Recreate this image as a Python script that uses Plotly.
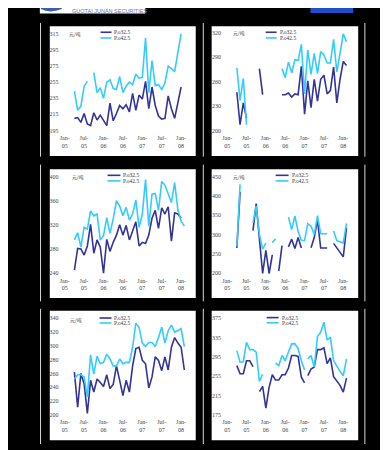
import plotly.graph_objects as go

W, H = 388, 450

# ---------------- data ----------------
months = ["Jan-05", "Feb-05", "Mar-05", "Apr-05", "May-05", "Jun-05", "Jul-05", "Aug-05", "Sep-05", "Oct-05", "Nov-05", "Dec-05",
          "Jan-06", "Feb-06", "Mar-06", "Apr-06", "May-06", "Jun-06", "Jul-06", "Aug-06", "Sep-06", "Oct-06", "Nov-06", "Dec-06",
          "Jan-07", "Feb-07", "Mar-07", "Apr-07", "May-07", "Jun-07", "Jul-07", "Aug-07", "Sep-07", "Oct-07", "Nov-07", "Dec-07",
          "Jan-08", "Feb-08"]
tick_months = ["Jan-05", "Jul-05", "Jan-06", "Jul-06", "Jan-07", "Jul-07", "Jan-08"]
tick_text = ["Jan-<br>05", "Jul-<br>05", "Jan-<br>06", "Jul-<br>06", "Jan-<br>07", "Jul-<br>07", "Jan-<br>08"]
series_names = ["P.o32.5", "P.o42.5"]
unit_label = "元/吨"

N = None
p1_po325 = [N, N, N, 210, 211, 205, 216, 203, 201, 217, 208, 214, 207, 201, 229, 207, 216, 226, 222, 227, 218, 241, 220, 239,
            234, 256, 222, 249, 226, 213, 209, 210, 238, 222, 210, 229, 249, N]
p1_po425 = [N, N, N, 244, 220, 225, 250, 256, N, 267, 242, 248, 235, 255, 258, 247, 246, 262, 242, 250, 255, 252, 265, 260,
            261, 310, 242, 282, 251, 252, 246, 254, 275, 272, 268, 292, 315, N]
p1_yticks = [195, 215, 235, 255, 275, 295, 315]

p2_po325 = [N, N, N, 247, 207, 234, 215, N, N, N, 276, 244, N, N, N, N, N, 244, 244, 246, 241, 245, 244, 279,
            220, 261, 228, 263, 236, 263, 268, 245, 249, 278, 234, 263, 285, 280]
p2_po425 = [N, N, N, 277, 237, 264, 207, N, N, N, N, N, N, N, N, N, N, 276, 265, 284, 271, 287, 286, 306,
            245, 299, 269, 295, 270, 297, 293, 283, 283, 312, 272, 295, 319, 309]
p2_yticks = [200, 230, 260, 290, 320]

p3_po325 = [N, N, N, 245, 281, 280, 270, 285, 321, 273, 295, 283, 240, 296, 276, 291, 303, 320, 303, 319, 295, 310, 325, 285,
            291, 289, 303, 331, 344, 314, 348, 338, 350, 293, 340, 338, 331, N]
p3_po425 = [N, N, N, 295, 307, 283, 316, 313, 343, 335, 338, 295, 302, 332, 306, 330, 360, 351, 335, 349, 328, 338, 361, 316,
            338, 395, 318, 371, 372, 344, 392, 386, 371, 357, 390, 345, 326, 318]
p3_yticks = [240, 280, 320, 360, 400]

p4_po325 = [N, N, N, 265, 410, N, N, N, 310, 380, 288, 199, 259, 199, 247, N, 206, 271, N, 268, 288, 264, 292, 265,
            N, N, 266, 292, 338, 265, 265, 265, N, 277, 265, 253, 242, 318]
p4_po425 = [N, N, N, 270, 430, N, N, N, 330, 374, 300, 262, 278, N, 279, 289, N, N, N, 345, 313, 348, 308, 285,
            284, 328, 322, 300, 349, 302, 302, 302, N, 309, 284, 281, 278, 329]
p4_yticks = [200, 250, 300, 350, 400, 450]

p5_po325 = [N, N, N, 262, 211, 260, 245, 202, 250, 233, 252, 247, 241, 258, 238, 244, 271, 250, 228, 250, 233, 271, 296, 298,
            279, 274, 239, 255, 284, 279, 264, 284, 265, 298, 312, 304, 298, 265]
p5_po425 = [N, N, N, 252, 258, 258, 255, 226, 287, 259, 285, 274, 276, 288, 281, 271, 271, 281, 274, 276, 276, 298, 333, 327,
            304, 299, 305, 305, 299, 312, 327, 304, 322, 330, 320, 322, 325, 299]
p5_yticks = [200, 220, 240, 260, 280, 300, 320, 340]

p6_po325 = [N, N, N, 277, 260, 260, 287, 287, 275, N, 223, 234, 189, 232, 258, 247, 247, 258, 258, 272, 298, 298, 296, 253,
            241, 256, 270, 274, 310, 310, 314, 281, 293, 254, 246, 236, 222, 251]
p6_po425 = [N, N, N, 308, 284, 285, 325, 310, 310, 305, 244, 259, N, N, N, 282, 277, 298, 287, 305, 322, 322, 312, 287,
            268, 291, 298, 274, 337, 346, 367, 330, 336, 287, 275, 265, 256, 291]
p6_yticks = [175, 215, 255, 295, 335, 375]
p6_breaks = ["Jan-07"]   # series are interrupted right after this month

# ---------------- styling / layout specs (pixels) ----------------
DARK, LIGHT = "#333399", "#33CCFF"
SERIF = "Liberation Serif"

panels = [
    dict(d=(p1_po325, p1_po425), yt=p1_yticks, brk=[], rect=(40, 18.3, 186.7, 148.3), x0=55.0, x36=172.0,
         ylo_px=122.7, yhi_px=26.0, unit=(65.5, 26.0), leg=(91, 102, 24.3, 30.0)),
    dict(d=(p2_po325, p2_po425), yt=p2_yticks, brk=[], rect=(202.7, 18.3, 350, 148.3), x0=218.3, x36=335.0,
         ylo_px=122.7, yhi_px=25.0, unit=(230.0, 25.3), leg=(257, 268, 24.3, 30.0)),
    dict(d=(p3_po325, p3_po425), yt=p3_yticks, brk=[], rect=(40, 161.7, 186.7, 290.7), x0=55.0, x36=172.0,
         ylo_px=265.7, yhi_px=169.0, unit=(68.0, 169.0), leg=(98, 111, 167.7, 173.3)),
    dict(d=(p4_po325, p4_po425), yt=p4_yticks, brk=[], rect=(202.7, 161.7, 350, 290.7), x0=218.3, x36=335.0,
         ylo_px=265.7, yhi_px=169.0, unit=(230.0, 169.0), leg=(267, 280, 167.7, 173.3)),
    dict(d=(p5_po325, p5_po425), yt=p5_yticks, brk=[], rect=(40, 303.3, 186.7, 433.3), x0=55.0, x36=172.0,
         ylo_px=407.7, yhi_px=311.0, unit=(66.5, 312.7), leg=(90, 102, 310.7, 315.7)),
    dict(d=(p6_po325, p6_po425), yt=p6_yticks, brk=p6_breaks, rect=(202.7, 303.3, 350, 433.3), x0=218.3, x36=335.0,
         ylo_px=407.7, yhi_px=311.0, unit=None, leg=(258, 270, 310.3, 315.5)),
]


def with_breaks(values, breaks):
    xs, ys = [], []
    for i, v in enumerate(values):
        xs.append(i)
        ys.append(v)
        if months[i] in breaks:
            xs.append(i + 0.5)
            ys.append(None)
    return xs, ys


def px(x):
    return x / W


def py(y):
    return 1 - y / H


fig = go.Figure()
shapes, annos = [], []

# header strip (page header, cropped)
shapes.append(dict(type="rect", xref="paper", yref="paper", x0=px(30), x1=px(136), y0=py(5.5), y1=py(-2),
                   fillcolor="white", line=dict(width=0), layer="below"))
shapes.append(dict(type="path", xref="paper", yref="paper",
                   path=f"M {px(31)},{py(1)} Q {px(40)},{py(6)} {px(52)},{py(1)} L {px(52)},{py(-1)} L {px(31)},{py(-1)} Z",
                   fillcolor="#3b5fa8", line=dict(width=0), layer="below"))
annos.append(dict(text="GUOTAI JUNAN SECURITIES", xref="paper", yref="paper", x=px(60), y=py(3.2),
                  xanchor="left", yanchor="middle", showarrow=False,
                  font=dict(family="Liberation Sans", size=5.5, color="#6a78a8")))
shapes.append(dict(type="rect", xref="paper", yref="paper", x0=px(302), x1=px(345), y0=py(5), y1=py(-2),
                   fillcolor="#1f4fc8", line=dict(width=0), layer="below"))

# thin frame lines
for (ya, yb) in [(15, 149), (157, 294), (301.5, 437)]:
    for xv in (30.7, 194.3, 356.7):
        shapes.append(dict(type="line", xref="paper", yref="paper", x0=px(xv), x1=px(xv), y0=py(ya), y1=py(yb),
                           line=dict(color="#d8d8d8", width=1), layer="below"))

for k, p in enumerate(panels, start=1):
    ax = "" if k == 1 else str(k)
    r = p["rect"]
    shapes.append(dict(type="rect", xref="paper", yref="paper", x0=px(r[0]), x1=px(r[2]), y0=py(r[3]), y1=py(r[1]),
                       fillcolor="white", line=dict(width=0), layer="below"))
    # x axis: category index positions
    dx = (p["x36"] - p["x0"]) / 36
    xr = [-1, 38]
    xd = [px(p["x0"] + xr[0] * dx), px(p["x0"] + xr[1] * dx)]
    ylo, yhi = p["yt"][0], p["yt"][-1]
    kpx = (p["ylo_px"] - p["yhi_px"]) / (yhi - ylo)
    pad = 0.025 * (yhi - ylo)
    yd = [py(p["ylo_px"] + pad * kpx), py(p["yhi_px"] - pad * kpx)]

    tickvals = [months.index(t) for t in tick_months]
    fig.update_layout(**{
        f"xaxis{ax}": dict(domain=xd, range=xr, anchor=f"y{ax}", tickmode="array", tickvals=tickvals,
                           ticktext=tick_text, showgrid=False, zeroline=False, showline=False, ticks="",
                           tickfont=dict(family=SERIF, size=6, color="#444"), fixedrange=True),
        f"yaxis{ax}": dict(domain=yd, range=[ylo - pad, yhi + pad], anchor=f"x{ax}", tickmode="array",
                           tickvals=p["yt"], showgrid=False, zeroline=False, showline=False, ticks="",
                           ticklabelstandoff=2,
                           tickfont=dict(family=SERIF, size=6, color="#444"), fixedrange=True),
    })
    for vals, name, color in zip(p["d"], series_names, (DARK, LIGHT)):
        xs, ys = with_breaks(vals, p["brk"])
        fig.add_trace(go.Scatter(x=xs, y=ys, mode="lines", name=name, xaxis=f"x{ax}", yaxis=f"y{ax}",
                                 line=dict(color=color, width=1.6), connectgaps=False, showlegend=False,
                                 hoverinfo="skip"))
    # legend (drawn manually so the sample line is short)
    lx0, lx1, r1, r2 = p["leg"]
    for yy, name, color in zip((r1, r2), series_names, (DARK, LIGHT)):
        shapes.append(dict(type="line", xref="paper", yref="paper", x0=px(lx0), x1=px(lx1), y0=py(yy), y1=py(yy),
                           line=dict(color=color, width=1.6)))
        annos.append(dict(text=name, xref="paper", yref="paper", x=px(lx1 + 1), y=py(yy), xanchor="left",
                          yanchor="middle", showarrow=False, font=dict(family=SERIF, size=5.5, color="#333")))
    if p["unit"]:
        ux, uy = p["unit"]
        annos.append(dict(text=unit_label, xref="paper", yref="paper", x=px(ux), y=py(uy), xanchor="center",
                          yanchor="middle", showarrow=False,
                          font=dict(family="Noto Sans CJK SC", size=4.8, color="#333")))

fig.update_layout(width=W, height=H, margin=dict(l=0, r=0, t=0, b=0), paper_bgcolor="black",
                  plot_bgcolor="white", showlegend=False, shapes=shapes, annotations=annos)

fig.write_html("out.html", config={"displayModeBar": False})
